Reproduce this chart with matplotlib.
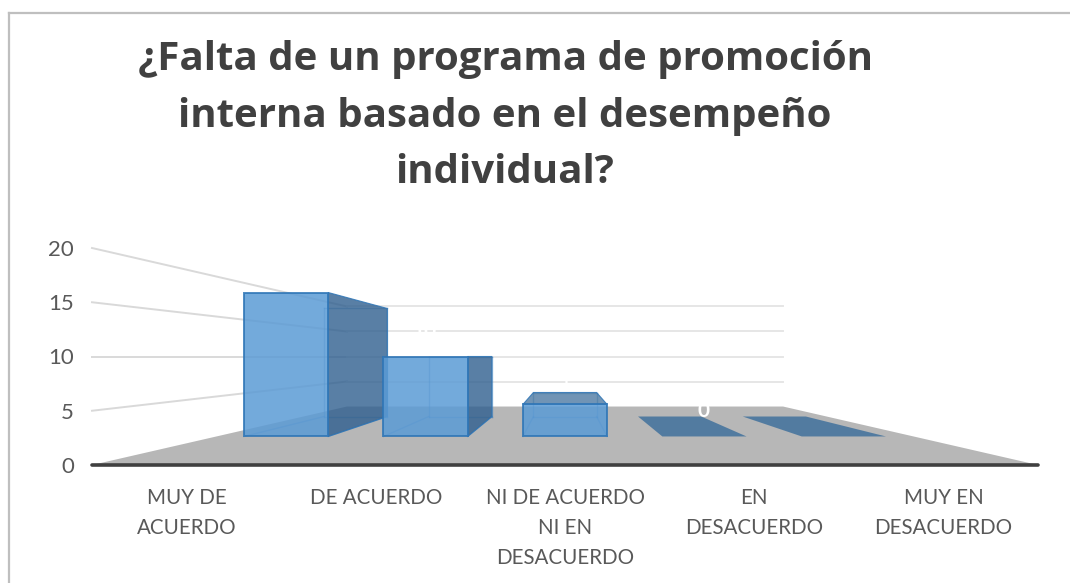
import matplotlib
matplotlib.use('Agg')
import matplotlib.pyplot as plt
from matplotlib.lines import Line2D
from matplotlib.patches import Polygon

categories = ['MUY DE\nACUERDO', 'DE ACUERDO', 'NI DE ACUERDO\nNI EN\nDESACUERDO', 'EN\nDESACUERDO', 'MUY EN\nDESACUERDO']
values = [18, 10, 4, 0, 0]
y_ticks = [0, 5, 10, 15, 20]
title = '¿Falta de un programa de promoción\ninterna basado en el desempeño\nindividual?'

W = 1070
H = 583

# depth factors of the fake 3D view, 1 is the front of the floor
T_FRONT = 0.737
T_BACK = 0.553
T_WALL = 0.461
HALF = 0.302
VP_X = 2
VP_Y = 10


def proj(x, v, t):
    return (VP_X + (x - VP_X) * t, VP_Y + (v - VP_Y) * t)


def add_face(ax, pts, color, alpha, edge='#2E75B6', lw=1.4, z=3):
    ax.add_patch(Polygon(pts, closed=True, facecolor=color, alpha=alpha, edgecolor='none', zorder=z))
    if edge:
        ax.add_patch(Polygon(pts, closed=True, fill=False, edgecolor=edge, linewidth=lw, alpha=0.85, zorder=z + 0.1))


def draw_bar(ax, i, v, z):
    l = i - HALF
    r = i + HALF
    fbl = proj(l, 0, T_FRONT)
    fbr = proj(r, 0, T_FRONT)
    ftl = proj(l, v, T_FRONT)
    ftr = proj(r, v, T_FRONT)
    bbl = proj(l, 0, T_BACK)
    bbr = proj(r, 0, T_BACK)
    btl = proj(l, v, T_BACK)
    btr = proj(r, v, T_BACK)

    if v == 0:
        add_face(ax, [fbl, fbr, bbr, bbl], '#41719C', 0.85, edge=None, z=z)
        return

    # inside edges show through the front
    for a, b in [(btl, btr), (btl, bbl), (btr, bbr), (bbl, bbr), (fbl, bbl), (fbr, bbr)]:
        ax.plot([a[0], b[0]], [a[1], b[1]], color='#2E75B6', lw=1, alpha=0.4, zorder=z)

    if r < VP_X:
        add_face(ax, [fbr, bbr, btr, ftr], '#2F5F8F', 0.8, lw=0.8, z=z + 0.2)
    if l > VP_X:
        add_face(ax, [fbl, bbl, btl, ftl], '#2F5F8F', 0.8, lw=0.8, z=z + 0.2)
    if v < VP_Y:
        add_face(ax, [ftl, ftr, btr, btl], '#41719C', 0.75, lw=0.8, z=z + 0.2)
    add_face(ax, [fbl, fbr, ftr, ftl], '#5B9BD5', 0.85, lw=1.4, z=z + 0.4)


plt.rcParams['font.family'] = ['Lato', 'DejaVu Sans']
fig = plt.figure(figsize=(W / 100, H / 100), dpi=100)
ax = fig.add_axes([92 / W, (H - 465) / H, 946 / W, 217 / H])
ax.set_xlim(-0.5, 4.5)
ax.set_ylim(0, 20)
ax.patch.set_alpha(0)
for s in ax.spines.values():
    s.set_visible(False)

# walls
for v in y_ticks[1:]:
    p0 = proj(-0.5, v, 1)
    p1 = proj(-0.5, v, T_WALL)
    p2 = proj(4.5, v, T_WALL)
    ax.plot([p0[0], p1[0]], [p0[1], p1[1]], color='#D9D9D9', lw=1.4, zorder=1, clip_on=False)
    ax.plot([p1[0], p2[0]], [p1[1], p2[1]], color='#E6E6E6', lw=1.4, zorder=1, clip_on=False)

# floor
floor = [proj(-0.5, 0, 1), proj(4.5, 0, 1), proj(4.5, 0, T_WALL), proj(-0.5, 0, T_WALL)]
ax.add_patch(Polygon(floor, closed=True, facecolor='#B7B7B7', edgecolor='none', zorder=2))
ax.plot([-0.5, 4.5], [0, 0], color='#404040', lw=2.6, zorder=2.5, clip_on=False, solid_capstyle='round')

for i, v in enumerate(values):
    draw_bar(ax, i, v, 3 + i)
    lx, ly = proj(i, v, T_FRONT)
    ax.annotate(str(v), (lx, ly), xytext=(-1, 18), textcoords='offset points', ha='center', va='center',
                color='white', fontsize=15, fontweight='bold', zorder=10)

ax.set_xticks(range(len(categories)))
ax.set_xticklabels(categories, fontsize=14.8, color='#595959', linespacing=1.64, va='top')
ax.set_yticks(y_ticks)
ax.set_yticklabels([str(t) for t in y_ticks], fontsize=16, color='#595959')
ax.tick_params(axis='both', length=0)
ax.tick_params(axis='x', pad=16.5)
ax.tick_params(axis='y', pad=13)

fig.text(505 / W, 1 - 116 / H, title, ha='center', va='center', fontsize=29, fontweight='bold',
         color='#404040', family=['Open Sans', 'DejaVu Sans'], linespacing=1.58)

# chart frame, only the top and left edges are inside the crop
fig.add_artist(Line2D([9 / W, 1], [1 - 13 / H, 1 - 13 / H], transform=fig.transFigure, color='#BFBFBF', lw=1.6))
fig.add_artist(Line2D([9 / W, 9 / W], [0, 1 - 13 / H], transform=fig.transFigure, color='#BFBFBF', lw=1.6))

fig.savefig('out.png', dpi=100)
